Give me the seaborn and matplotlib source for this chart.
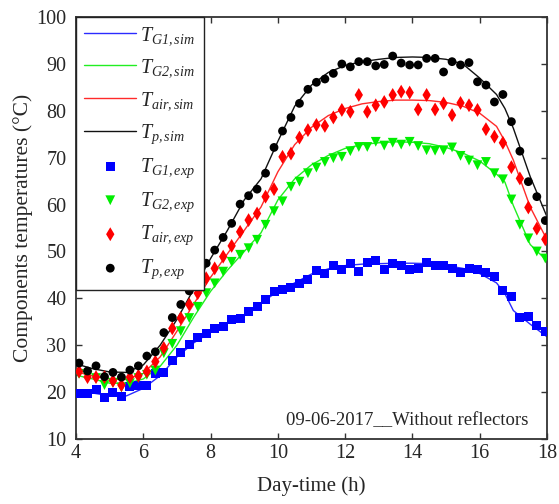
import numpy as np
import pandas as pd
import matplotlib
matplotlib.use("Agg")
import matplotlib.pyplot as plt
import seaborn as sns

# ---------------- data ----------------
sim_t = [4.0, 4.5, 5.0, 5.5, 6.0, 6.5, 7.0, 7.5, 8.0, 8.5, 9.0, 9.5, 10.0, 10.5,
         11.0, 11.5, 12.0, 12.5, 13.0, 13.5, 14.0, 14.5, 15.0, 15.5, 16.0, 16.5,
         16.75, 17.0, 17.5, 18.0]
tg1_sim = [20.3, 19.8, 19.2, 19.2, 20.8, 23.5, 27.5, 30.5, 32.8, 34.7, 36.5, 39.0,
           41.5, 43.3, 45.2, 46.3, 47.0, 47.3, 47.4, 47.5, 47.5, 47.4, 47.0, 46.4,
           45.3, 43.3, 41.0, 37.4, 34.5, 31.8]
tg2_sim = [23.6, 22.8, 21.9, 21.9, 22.8, 25.5, 30.0, 36.0, 41.5, 46.0, 50.0, 54.0,
           61.0, 65.5, 68.5, 70.5, 72.0, 72.8, 73.2, 73.4, 73.3, 73.0, 72.2, 71.0,
           69.3, 66.5, 64.8, 59.8, 51.5, 48.0]
tair_sim = [24.3, 23.5, 22.8, 22.7, 24.0, 27.5, 33.0, 38.8, 44.5, 49.5, 54.5, 59.5,
            67.0, 72.8, 76.5, 79.0, 80.5, 81.5, 82.0, 82.3, 82.3, 82.2, 81.8, 81.0,
            79.5, 76.7, 73.5, 69.5, 59.5, 52.5]
tp_sim = [26.0, 25.0, 24.3, 24.2, 25.8, 30.0, 35.5, 42.0, 48.5, 54.5, 61.0, 65.5,
          73.5, 81.0, 85.5, 88.2, 89.7, 90.5, 91.0, 91.4, 91.5, 91.4, 91.0, 90.0,
          87.0, 83.5, 80.5, 76.3, 66.0, 57.4]

exp_t = np.linspace(4.09, 17.95, 56)
tg1_exp = [19.8, 19.6, 20.6, 18.8, 19.9, 19.0, 21.3, 21.5, 21.5, 23.9, 24.2, 26.8,
           28.4, 30.2, 31.7, 32.6, 33.5, 34.1, 35.4, 35.8, 37.2, 38.2, 39.7, 41.4,
           41.9, 42.3, 43.2, 44.1, 45.9, 45.3, 47.1, 46.1, 47.5, 45.8, 47.7, 48.0,
           46.1, 47.5, 47.1, 46.1, 46.4, 47.7, 47.1, 47.1, 46.3, 45.5, 46.3, 46.1,
           45.5, 44.6, 41.6, 40.4, 36.0, 36.2, 34.3, 32.9]
tg2_exp = [23.9, 23.5, 23.0, 21.5, 22.0, 21.0, 21.9, 23.0, 23.7, 24.6, 28.3, 30.3,
           33.0, 35.8, 38.2, 41.1, 43.2, 45.7, 47.8, 49.3, 50.7, 52.5, 55.7, 58.6,
           60.7, 63.8, 64.9, 66.7, 67.9, 69.1, 69.9, 70.2, 71.4, 72.3, 72.3, 73.4,
           72.6, 73.2, 72.8, 73.4, 72.5, 71.6, 71.5, 71.6, 72.2, 70.4, 69.4, 68.4,
           69.1, 66.7, 65.4, 61.1, 55.7, 52.8, 50.0, 48.5]
tair_exp = [24.4, 23.2, 23.2, 23.2, 22.4, 21.5, 23.2, 23.5, 24.4, 26.5, 29.4, 33.6,
            35.8, 38.7, 41.1, 44.3, 46.4, 48.9, 51.2, 54.2, 56.7, 58.1, 61.7, 63.3,
            70.2, 70.9, 74.3, 75.9, 77.0, 76.8, 78.6, 80.2, 79.8, 83.4, 79.8, 81.2,
            81.9, 83.4, 84.1, 83.9, 80.3, 83.4, 80.3, 81.6, 79.1, 81.7, 81.2, 80.2,
            76.1, 74.5, 73.2, 68.0, 65.6, 59.4, 54.9, 52.6]
tp_exp = [26.2, 24.5, 25.6, 23.3, 24.2, 23.2, 24.7, 25.6, 27.7, 28.6, 32.7, 35.9,
          38.7, 41.6, 44.8, 47.5, 50.3, 53.0, 56.0, 60.1, 61.9, 63.3, 66.7, 72.2,
          75.7, 78.6, 81.6, 84.6, 86.1, 86.8, 88.0, 90.0, 89.4, 90.5, 90.5, 89.6,
          89.9, 91.7, 90.2, 89.8, 89.8, 91.2, 91.2, 88.3, 90.5, 89.8, 90.3, 86.2,
          85.5, 81.9, 83.5, 77.7, 71.4, 64.9, 61.7, 56.6]

x_ticks = [4, 6, 8, 10, 12, 14, 16, 18]
y_ticks = [10, 20, 30, 40, 50, 60, 70, 80, 90, 100]
note = "09-06-2017__Without reflectors"

# ---------------- style ----------------
sns.set_style("ticks", {"xtick.direction": "in", "ytick.direction": "in"})
plt.rcParams["font.family"] = ["Liberation Serif", "DejaVu Serif"]
plt.rcParams["mathtext.fontset"] = "custom"
plt.rcParams["mathtext.rm"] = "Liberation Serif:italic"
plt.rcParams["mathtext.it"] = "Liberation Serif:italic"
plt.rcParams["mathtext.bf"] = "Liberation Serif:bold"

fig = plt.figure(figsize=(5.59, 5.04), dpi=100)
ax = fig.add_axes([0.136, 0.129, 0.8425, 0.837])

sim_df = pd.DataFrame({"t": sim_t, "g1": tg1_sim, "g2": tg2_sim,
                       "air": tair_sim, "p": tp_sim})
exp_df = pd.DataFrame({"t": exp_t, "g1": tg1_exp, "g2": tg2_exp,
                       "air": tair_exp, "p": tp_exp})

sim_specs = [("g1", "#2b2bff", r"$T_{G1,sim}$"),
             ("g2", "#22ee22", r"$T_{G2,sim}$"),
             ("air", "#ff2a2a", r"$T_{air,sim}$"),
             ("p", "#111111", r"$T_{p,sim}$")]
exp_specs = [("g1", "#0000ff", "s", 42, r"$T_{G1,exp}$"),
             ("g2", "#00ee00", "v", 50, r"$T_{G2,exp}$"),
             ("air", "#ff0000", "d", 50, r"$T_{air,exp}$"),
             ("p", "#000000", "o", 40, r"$T_{p,exp}$")]

for col, c, lab in sim_specs:
    sns.lineplot(data=sim_df, x="t", y=col, color=c, lw=1.0, label=lab,
                 ax=ax, zorder=2)
for col, c, m, s, lab in exp_specs:
    sns.scatterplot(data=exp_df, x="t", y=col, color=c, marker=m, s=s,
                    linewidth=0, edgecolor="none", label=lab, ax=ax, zorder=3)

ax.set_xlim(4, 18)
ax.set_ylim(10, 100)
ax.set_xticks(x_ticks)
ax.set_yticks(y_ticks)
ax.tick_params(top=True, right=True, labelsize=14.5, length=4, width=1,
               color="#333333", direction="in")
ax.tick_params(axis="y", pad=7)
for sp in ax.spines.values():
    sp.set_visible(True)
    sp.set_color("#333333")
    sp.set_linewidth(1.3)

ax.set_xlabel("Day-time (h)", fontsize=15, labelpad=10)
ax.set_ylabel("Components temperatures (\u00b0C)", fontsize=15.5, labelpad=2)

ax.text(17.45, 14.0, note, ha="right", va="center", fontsize=13.5)

h, l = ax.get_legend_handles_labels()
leg = ax.legend(h, l, loc="upper left", borderaxespad=0, fontsize=14.5,
                handlelength=2.6, handletextpad=0.2, labelspacing=0.52,
                borderpad=0.4, numpoints=1, scatterpoints=1, frameon=True,
                fancybox=False, framealpha=1, edgecolor="#222222")
leg.get_frame().set_linewidth(1.0)
leg.set_zorder(5)

fig.savefig("out.png", dpi=100)
